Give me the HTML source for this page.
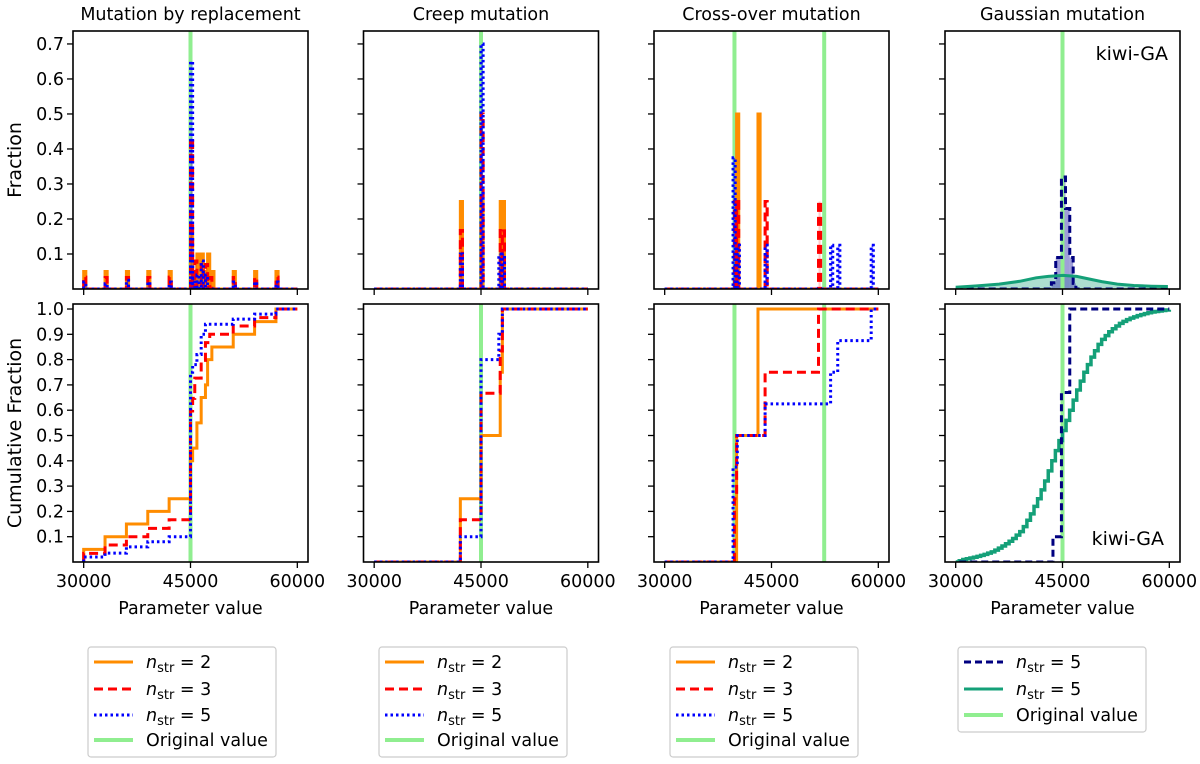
<!DOCTYPE html>
<html><head><meta charset="utf-8"><style>
html,body{margin:0;padding:0;background:#fff}
svg{display:block;font-family:"DejaVu Sans","Liberation Sans",sans-serif}
</style></head><body>
<svg id="fig" width="1200" height="764" viewBox="0 0 1200 764" xmlns="http://www.w3.org/2000/svg"></svg>
<script>
// ---------- data ----------
const xTicks = [30000, 45000, 60000];
const topYTicks = [0.1, 0.2, 0.3, 0.4, 0.5, 0.6, 0.7];
const botYTicks = [0.1, 0.2, 0.3, 0.4, 0.5, 0.6, 0.7, 0.8, 0.9, 1.0];
const panelTitles = ["Mutation by replacement", "Creep mutation", "Cross-over mutation", "Gaussian mutation"];
const binWidth = 300;
const originalValues = [[45000], [45000], [39800, 52400], [45000]];

// Mutation by replacement
const repOrangeBins = [30000, 33000, 36000, 39000, 42000, 45000, 45300, 45900, 46500, 47100, 47400, 48000, 51000, 54000, 57000];
const repOrangeVals = [0.05, 0.05, 0.05, 0.05, 0.05, 0.15, 0.05, 0.1, 0.1, 0.05, 0.1, 0.05, 0.05, 0.05, 0.05];
const repRedBins = [30000, 33000, 36000, 39000, 42000, 45000, 45300, 45600, 46500, 47100, 47700, 51000, 54000, 57000];
const repRedVals = [0.034, 0.033, 0.033, 0.033, 0.034, 0.43, 0.05, 0.08, 0.07, 0.07, 0.033, 0.033, 0.033, 0.034];
const repBlueBins = [30000, 33000, 36000, 39000, 42000, 45000, 45300, 45900, 46500, 47100, 51000, 54000, 57000];
const repBlueVals = [0.02, 0.015, 0.025, 0.02, 0.02, 0.65, 0.03, 0.04, 0.08, 0.04, 0.02, 0.02, 0.02];

// Creep mutation
const creepOrangeBins = [42100, 45000, 47700, 48000];
const creepOrangeVals = [0.25, 0.25, 0.25, 0.25];
const creepRedBins = [42100, 45000, 47700, 48000];
const creepRedVals = [0.167, 0.5, 0.167, 0.166];
const creepBlueBins = [42100, 45000, 47500, 48000];
const creepBlueVals = [0.1, 0.7, 0.1, 0.1];

// Cross-over mutation
const crossOrangeBins = [40100, 43100];
const crossOrangeVals = [0.5, 0.5];
const crossRedBins = [39800, 40100, 44100, 51600];
const crossRedVals = [0.25, 0.25, 0.25, 0.25];
const crossBlueBins = [39600, 40200, 44100, 53300, 54300, 59000];
const crossBlueVals = [0.375, 0.125, 0.125, 0.125, 0.125, 0.125];

// Gaussian mutation (kiwi-GA)
const gaussNavyEdges = [43440, 44050, 44850, 45420, 46020, 46500, 46880];
const gaussNavyVals = [0.018, 0.09, 0.32, 0.23, 0.09, 0.016];
const gaussNavyCdfX = [30500, 43660, 44850, 46020, 60000];
const gaussNavyCdfY = [0, 0.1, 0.67, 1.0];
const gaussGreenX = [30000, 33000, 36100, 39000, 41300, 43000, 45100, 47000, 48400, 50500, 52700, 55000, 57500, 59800];
const gaussGreenY = [0.005, 0.009, 0.014, 0.022, 0.032, 0.036, 0.039, 0.036, 0.03, 0.021, 0.014, 0.01, 0.008, 0.007];
const gaussGreenCdfX = [30000, 30500, 31000, 31500, 32000, 32500, 33000, 33500, 34000, 34500, 35000, 35500, 36000, 36500, 37000, 37500, 38000, 38500, 39000, 39500, 40000, 40500, 41000, 41500, 42000, 42500, 43000, 43500, 44000, 44500, 45000, 45500, 46000, 46500, 47000, 47500, 48000, 48500, 49000, 49500, 50000, 50500, 51000, 51500, 52000, 52500, 53000, 53500, 54000, 54500, 55000, 55500, 56000, 56500, 57000, 57500, 58000, 58500, 59000, 59500, 60000];
const gaussGreenCdfY = [0.0, 0.005, 0.01, 0.013, 0.016, 0.019, 0.022, 0.026, 0.03, 0.035, 0.04, 0.047, 0.055, 0.063, 0.072, 0.082, 0.093, 0.106, 0.12, 0.14, 0.165, 0.19, 0.22, 0.25, 0.285, 0.32, 0.36, 0.4, 0.44, 0.48, 0.52, 0.56, 0.6, 0.64, 0.68, 0.715, 0.75, 0.78, 0.81, 0.835, 0.86, 0.88, 0.895, 0.91, 0.922, 0.933, 0.943, 0.951, 0.958, 0.964, 0.969, 0.974, 0.978, 0.982, 0.985, 0.988, 0.99, 0.992, 0.994, 0.996, 0.997];

// ---------- layout ----------
const NS = "http://www.w3.org/2000/svg";
const svg = document.getElementById("fig");
const panelLeft = [73, 363.5, 654, 945];
const panelW = 235;
const topBox = [31, 289];
const botBox = [304, 562];
const XMIN = 28500, XMAX = 61500;
const TOPMAX = 0.737, BOTMAX = 1.0198;
const FS = 17.5;

function xs(p, v) { return panelLeft[p] + (v - XMIN) / (XMAX - XMIN) * panelW; }
function yTop(v) { return topBox[1] - v / TOPMAX * (topBox[1] - topBox[0]); }
function yBot(v) { return botBox[1] - v / BOTMAX * (botBox[1] - botBox[0]); }

function mk(tag, attrs, parent) {
  const e = document.createElementNS(NS, tag);
  for (const k in attrs) e.setAttribute(k, attrs[k]);
  (parent || svg).appendChild(e);
  return e;
}

const defs = mk("defs", {});
const styles = {
  orange: { stroke: "#FF8C00", dash: "none", fill: "#FF8C00" },
  red: { stroke: "#FF0000", dash: "9,5", fill: "#FF0000" },
  blue: { stroke: "#0000FF", dash: "2.5,3", fill: "#0000FF" },
  navy: { stroke: "#000080", dash: "7,4", fill: "#3a3aa8" },
  teal: { stroke: "#14A078", dash: "none", fill: "#14A078" }
};

function drawHist(p, g, bins, vals, st, name) {
  let d = "M" + xs(p, 30000) + "," + yTop(0);
  const idx = bins.map((b, i) => i).sort((a, b) => bins[a] - bins[b]);
  idx.forEach(i => {
    const b = bins[i], v = vals[i];
    const r = mk("rect", { x: xs(p, b), y: yTop(v), width: xs(p, b + binWidth) - xs(p, b), height: yTop(0) - yTop(v), fill: st.fill, "fill-opacity": 0.2 }, g);
    
    
    d += " H" + xs(p, b) + " V" + yTop(v) + " H" + xs(p, b + binWidth) + " V" + yTop(0);
  });
  d += " H" + xs(p, 60000);
  const path = mk("path", { d: d, fill: "none", stroke: st.stroke, "stroke-width": 3, "stroke-dasharray": st.dash, "stroke-linejoin": "miter" }, g);
  
  
}

function drawCdf(p, g, bins, vals, st, name) {
  const idx = bins.map((b, i) => i).sort((a, b) => bins[a] - bins[b]);
  let cum = 0;
  let d = "M" + xs(p, 30000) + "," + yBot(0);
  idx.forEach(i => {
    d += " H" + xs(p, bins[i]);
    cum += vals[i];
    d += " V" + yBot(Math.min(cum, 1));
  });
  d += " H" + xs(p, 60000);
  const path = mk("path", { d: d, fill: "none", stroke: st.stroke, "stroke-width": 3, "stroke-dasharray": st.dash }, g);
  
  
}

function drawOriginal(p, g, row) {
  originalValues[p].forEach(v => {
    const y0 = row === 0 ? topBox[0] : botBox[0], y1 = row === 0 ? topBox[1] : botBox[1];
    const l = mk("line", { x1: xs(p, v), x2: xs(p, v), y1: y0, y2: y1, stroke: "#90EE90", "stroke-width": 4 }, g);
    
    
  });
}

function axes(p, row) {
  const box = row === 0 ? topBox : botBox;
  const g = mk("g", {});
  
  
  const r = mk("rect", { x: panelLeft[p], y: box[0], width: panelW, height: box[1] - box[0], fill: "none", stroke: "#000", "stroke-width": 1.6 }, g);
  
  
  xTicks.forEach(t => {
    const tk = mk("line", { x1: xs(p, t), x2: xs(p, t), y1: box[1], y2: box[1] + 6, stroke: "#000", "stroke-width": 1.3 }, g);
    
    
    if (row === 1) {
      const tl = mk("text", { x: xs(p, t), y: box[1] + 25, "font-size": FS, "text-anchor": "middle", fill: "#000" }, g);
      tl.textContent = t;
      
      
    }
  });
  const yt = row === 0 ? topYTicks : botYTicks;
  yt.forEach(t => {
    const y = row === 0 ? yTop(t) : yBot(t);
    const tk = mk("line", { x1: panelLeft[p] - 6, x2: panelLeft[p], y1: y, y2: y, stroke: "#000", "stroke-width": 1.3 }, g);
    
    
    if (p === 0) {
      const tl = mk("text", { x: panelLeft[p] - 9, y: y + 6, "font-size": FS, "text-anchor": "end", fill: "#000" }, g);
      tl.textContent = t.toFixed(1);
      
      
    }
  });
  if (row === 1) {
    const xl = mk("text", { x: panelLeft[p] + panelW / 2, y: 614, "font-size": FS, "text-anchor": "middle", fill: "#000" }, g);
    xl.textContent = "Parameter value";
    
    
  } else {
    const tt = mk("text", { x: panelLeft[p] + panelW / 2, y: 20, "font-size": FS, "text-anchor": "middle", fill: "#000" }, g);
    tt.textContent = panelTitles[p];
    
    
  }
}

function clipGroup(p, row) {
  const box = row === 0 ? topBox : botBox;
  const id = "clip" + p + "_" + row;
  const cp = mk("clipPath", { id: id }, defs);
  mk("rect", { x: panelLeft[p], y: box[0], width: panelW, height: box[1] - box[0] }, cp);
  const g = mk("g", { "clip-path": "url(#" + id + ")" });
  
  
  return g;
}

const sets = [
  [[repOrangeBins, repOrangeVals, "orange"], [repRedBins, repRedVals, "red"], [repBlueBins, repBlueVals, "blue"]],
  [[creepOrangeBins, creepOrangeVals, "orange"], [creepRedBins, creepRedVals, "red"], [creepBlueBins, creepBlueVals, "blue"]],
  [[crossOrangeBins, crossOrangeVals, "orange"], [crossRedBins, crossRedVals, "red"], [crossBlueBins, crossBlueVals, "blue"]]
];
const seriesNames = { orange: "n-str-2", red: "n-str-3", blue: "n-str-5" };

for (let p = 0; p < 3; p++) {
  const gt = clipGroup(p, 0);
  drawOriginal(p, gt, 0);
  sets[p].forEach(s => drawHist(p, gt, s[0], s[1], styles[s[2]], seriesNames[s[2]]));
  const gb = clipGroup(p, 1);
  drawOriginal(p, gb, 1);
  sets[p].forEach(s => drawCdf(p, gb, s[0], s[1], styles[s[2]], seriesNames[s[2]]));
}

// Gaussian panel
(function () {
  const p = 3;
  const gt = clipGroup(p, 0);
  let d = "M" + xs(p, gaussGreenX[0]) + "," + yTop(0);
  gaussGreenX.forEach((x, i) => { d += " L" + xs(p, x) + "," + yTop(gaussGreenY[i]); });
  d += " L" + xs(p, gaussGreenX[gaussGreenX.length - 1]) + "," + yTop(0) + " Z";
  const tf = mk("path", { d: d, fill: "#14A078", "fill-opacity": 0.35, stroke: "none" }, gt);
  
  
  let hd = "M" + xs(p, 30000) + "," + yTop(0);
  gaussNavyVals.forEach((v, i) => {
    const a = gaussNavyEdges[i], b = gaussNavyEdges[i + 1];
    const r = mk("rect", { x: xs(p, a), y: yTop(v), width: xs(p, b) - xs(p, a), height: yTop(0) - yTop(v), fill: "#5050b8", "fill-opacity": 0.55 }, gt);
    
    
    hd += " H" + xs(p, a) + " V" + yTop(v) + " H" + xs(p, b);
  });
  hd += " V" + yTop(0) + " H" + xs(p, 60000);
  drawOriginal(p, gt, 0);
  const nh = mk("path", { d: hd, fill: "none", stroke: "#000080", "stroke-width": 3, "stroke-dasharray": "7,4" }, gt);
  
  
  let ld = "";
  gaussGreenX.forEach((x, i) => { ld += (i ? " L" : "M") + xs(p, x) + "," + yTop(gaussGreenY[i]); });
  const tl = mk("path", { d: ld, fill: "none", stroke: "#14A078", "stroke-width": 3 }, gt);
  
  
  const k1 = mk("text", { x: 1168, y: 60, "font-size": 19, "text-anchor": "end", fill: "#000" }, gt);
  k1.textContent = "kiwi-GA";
  
  

  const gb = clipGroup(p, 1);
  drawOriginal(p, gb, 1);
  let cd = "M" + xs(p, gaussGreenCdfX[0]) + "," + yBot(gaussGreenCdfY[0]);
  gaussGreenCdfX.forEach((x, i) => { cd += " H" + xs(p, x) + " V" + yBot(gaussGreenCdfY[i]); });
  const gc = mk("path", { d: cd, fill: "none", stroke: "#14A078", "stroke-width": 3.5 }, gb);
  
  
  let nd = "M" + xs(p, gaussNavyCdfX[0]) + "," + yBot(0);
  gaussNavyCdfY.forEach((v, i) => { nd += " H" + xs(p, gaussNavyCdfX[i]) + " V" + yBot(v); });
  nd += " H" + xs(p, gaussNavyCdfX[gaussNavyCdfX.length - 1]);
  const nc = mk("path", { d: nd, fill: "none", stroke: "#000080", "stroke-width": 3, "stroke-dasharray": "7,4" }, gb);
  
  
  const k2 = mk("text", { x: 1164, y: 545, "font-size": 19, "text-anchor": "end", fill: "#000" }, gb);
  k2.textContent = "kiwi-GA";
  
  
})();

for (let p = 0; p < 4; p++) { axes(p, 0); axes(p, 1); }

const yt1 = mk("text", { x: 0, y: 0, "font-size": 19, "text-anchor": "middle", fill: "#000", transform: "translate(21,160) rotate(-90)" });
yt1.textContent = "Fraction";


const yt2 = mk("text", { x: 0, y: 0, "font-size": 19, "text-anchor": "middle", fill: "#000", transform: "translate(21,433) rotate(-90)" });
yt2.textContent = "Cumulative Fraction";



const legendLeft = [88, 379, 670, 958];
const legendRowY = [662, 689, 715, 740];
const legendItems = [
  [["orange", "2"], ["red", "3"], ["blue", "5"], ["green", "Original value"]],
  [["orange", "2"], ["red", "3"], ["blue", "5"], ["green", "Original value"]],
  [["orange", "2"], ["red", "3"], ["blue", "5"], ["green", "Original value"]],
  [["navy", "5"], ["teal", "5"], ["green", "Original value"]]
];
legendItems.forEach((items, li) => {
  const L = legendLeft[li];
  const g = mk("g", {});
  
  
  const box = mk("rect", { x: L, y: 647, width: 188, height: items.length === 4 ? 110 : 85, rx: 3, fill: "#fff", stroke: "#cccccc", "stroke-width": 1.2 }, g);
  
  
  items.forEach((it, i) => {
    const y = legendRowY[i];
    const eg = mk("g", {}, g);
    
    
    const st = it[0] === "green" ? { stroke: "#90EE90", dash: "none" } : styles[it[0]];
    const ln = mk("line", { x1: L + 6, x2: L + 45, y1: y, y2: y, stroke: st.stroke, "stroke-width": it[0] === "green" ? 4 : 3, "stroke-dasharray": st.dash }, eg);
    
    
    const tx = mk("text", { x: L + 58, y: y + 6, "font-size": FS, fill: "#000" }, eg);
    
    
    if (it[0] === "green") {
      tx.textContent = it[1];
    } else {
      const a = mk("tspan", { "font-style": "italic" }, tx); a.textContent = "n";
      const b = mk("tspan", { dy: 4, "font-size": 13 }, tx); b.textContent = "str";
      const c = mk("tspan", { dy: -4 }, tx); c.textContent = " = " + it[1];
    }
  });
});
</script>
</body></html>
